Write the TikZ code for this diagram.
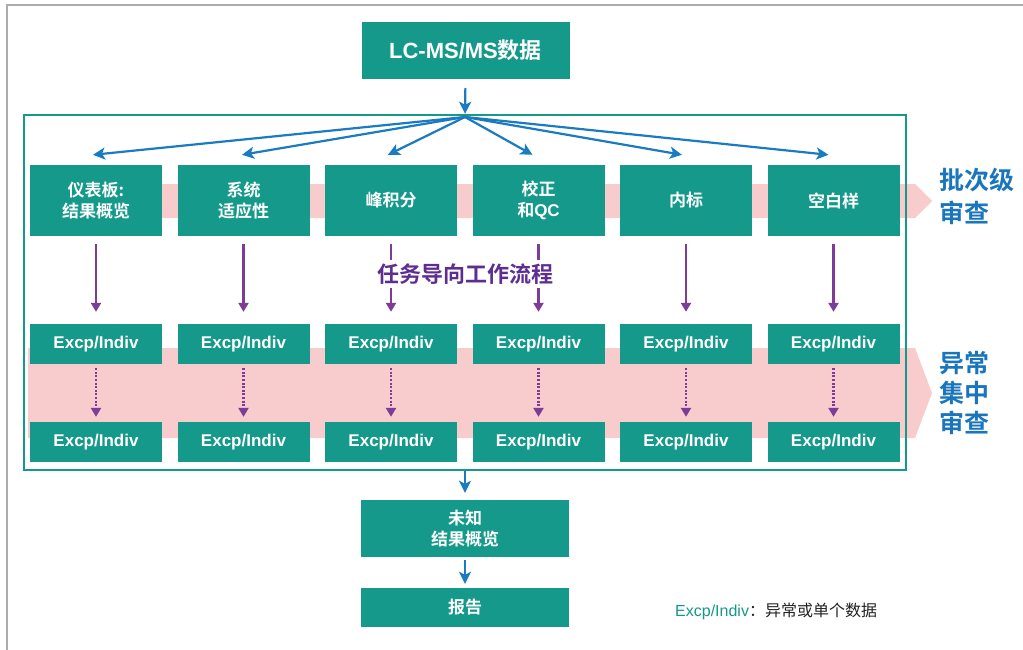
\documentclass[tikz,border=0pt]{standalone}
\usepackage{fontspec}
\setmainfont{Liberation Sans}
\newfontfamily\cjk{Noto Sans CJK SC}[BoldFont={Noto Sans CJK SC Bold}]
\usetikzlibrary{arrows.meta}
\definecolor{teal1}{HTML}{14998A}
\definecolor{pink1}{HTML}{F8CBCC}
\definecolor{blue1}{HTML}{1B7BC0}
\definecolor{lblue}{HTML}{1A76BC}
\definecolor{purp}{HTML}{7D3C98}
\definecolor{tpurp}{HTML}{5E2D91}
\definecolor{dark1}{HTML}{222222}
\tikzset{
  box/.style={fill=teal1, text=white, inner sep=0pt, minimum width=132pt, minimum height=71pt, align=center, font=\cjk\bfseries\fontsize{17}{21}\selectfont},
  exbox/.style={fill=teal1, text=white, inner sep=0pt, minimum width=132pt, minimum height=40pt, font=\bfseries\fontsize{17}{20}\selectfont},
  mbox/.style={fill=teal1, text=white, inner sep=0pt, minimum width=208pt, align=center},
  barrow/.style={draw=blue1, line width=2.2pt, -{Stealth[length=12pt,width=12pt,inset=3pt]}},
  parrow/.style={draw=purp, line width=2.2pt, -{Triangle[length=9pt,width=10pt]}},
  lbl/.style={text=lblue, inner sep=0pt, align=left, anchor=west},
}
\begin{document}
\begin{tikzpicture}[x=1pt,y=-1pt]
\useasboundingbox (0,0) rectangle (1023,650);
% outer gray border
\draw[black!32, line width=1.8pt] (7,650) -- (7,5) -- (1023,5);
% pink bands
\fill[pink1] (30,184) -- (915,184) -- (932,201) -- (915,218) -- (30,218) -- cycle;
\fill[pink1] (28,348) -- (915,348) -- (932,393) -- (915,438) -- (28,438) -- cycle;
% frame
\node[draw=teal1, line width=2.4pt, minimum width=882pt, minimum height=355pt, inner sep=0pt] (frame) at (465,292.5) {};
% top box
\node[mbox, minimum height=57pt, font=\cjk\bfseries\fontsize{22}{24}\selectfont] (lcms) at (465.5,50.5) {{\rmfamily LC-MS/MS}数据};
\coordinate (fan) at (465,117);
\draw[barrow, shorten <=9pt] (lcms.south) -- (frame.north);
% top row
\node[box] (t1) at (96,200.5) {仪表板:\\结果概览};
\node[box] (t2) at (243.5,200.5) {系统\\适应性};
\node[box] (t3) at (391,200.5) {峰积分};
\node[box] (t4) at (538.5,200.5) {校正\\和{\rmfamily QC}};
\node[box] (t5) at (686,200.5) {内标};
\node[box] (t6) at (833.5,200.5) {空白样};
\foreach \i/\x/\dx in {1/96/-3,2/243.5/-1.5,3/391/-3,4/538.5/-6,5/686/-4,6/833.5/-5}{
  \node[exbox] (a\i) at (\x,344) {Excp/Indiv};
  \node[exbox] (b\i) at (\x,442) {Excp/Indiv};
  \draw[barrow] (fan) -- ([xshift=\dx pt, yshift=10pt]t\i.north);
  \draw[parrow, shorten <=8pt, shorten >=12pt] (t\i.south) -- (a\i.north);
  \draw[parrow, dash pattern=on 2pt off 1.6pt, shorten <=4pt, shorten >=5pt] (a\i.south) -- (b\i.north);
}
\node[fill=white, inner xsep=0pt, inner ysep=4pt, text=tpurp, font=\cjk\bfseries\fontsize{22}{22}\selectfont] (task) at (465,274) {任务导向工作流程};
% side labels
\node[lbl, font=\cjk\bfseries\fontsize{25}{33}\selectfont] (l1) at (939,196.5) {批次级\\审查};
\node[lbl, font=\cjk\bfseries\fontsize{25}{30}\selectfont] (l2) at (939,393) {异常\\集中\\审查};
% bottom
\node[mbox, minimum height=57pt, font=\cjk\bfseries\fontsize{17}{21}\selectfont] (r1) at (465,528.5) {未知\\结果概览};
\node[mbox, minimum height=39pt, font=\cjk\bfseries\fontsize{17}{21}\selectfont] (r2) at (465,607.5) {报告};
\draw[barrow, shorten >=7pt] (frame.south) -- (r1.north);
\draw[barrow, shorten <=3pt, shorten >=4pt] (r1.south) -- (r2.north);
% legend
\node[anchor=west, inner sep=0pt, font=\fontsize{16}{18}\selectfont] (leg) at (675,611) {\textcolor{teal1}{Excp/Indiv}{\cjk\color{dark1}：异常或单个数据}};
\end{tikzpicture}
\end{document}
